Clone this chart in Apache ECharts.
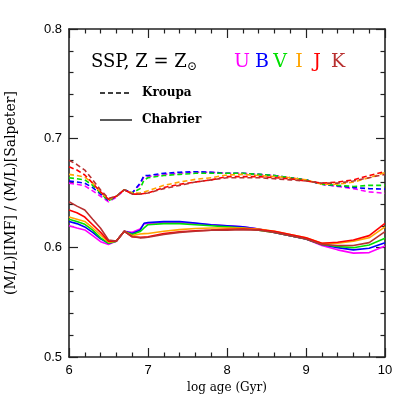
<!DOCTYPE html>
<html>
<head>
<meta charset="utf-8">
<script src="https://cdn.jsdelivr.net/npm/echarts@6/dist/echarts.min.js"></script>
<style>
  html, body { margin: 0; padding: 0; background: #fff; }
  #chart { width: 407px; height: 407px; }
</style>
</head>
<body>
<div id="chart"></div>
<script>
// log age grid (Gyr)
const ages = [6.0, 6.1, 6.2, 6.3, 6.4, 6.5, 6.6, 6.7, 6.8, 6.9, 6.95, 7.0, 7.2, 7.4, 7.6, 7.8,
  8.0, 8.2, 8.4, 8.6, 8.8, 9.0, 9.2, 9.4, 9.6, 9.8, 10.0];

// Kroupa (dashed)
const kroupaU = [0.659, 0.658, 0.6565, 0.652, 0.647, 0.642, 0.646, 0.653, 0.650, 0.658, 0.665, 0.665, 0.667, 0.668, 0.669, 0.669,
  0.668, 0.668, 0.667, 0.666, 0.664, 0.662, 0.658, 0.656, 0.654, 0.651, 0.6497];
const kroupaB = [0.661, 0.660, 0.659, 0.655, 0.649, 0.643, 0.647, 0.653, 0.650, 0.659, 0.666, 0.666, 0.668, 0.669, 0.6695, 0.669,
  0.668, 0.668, 0.667, 0.666, 0.664, 0.662, 0.658, 0.6565, 0.655, 0.654, 0.6535];
const kroupaV = [0.664, 0.663, 0.662, 0.657, 0.650, 0.643, 0.647, 0.653, 0.650, 0.654, 0.662, 0.664, 0.666, 0.667, 0.668, 0.668,
  0.668, 0.668, 0.667, 0.666, 0.664, 0.662, 0.658, 0.657, 0.656, 0.657, 0.657];
const kroupaI = [0.667, 0.666, 0.6645, 0.659, 0.651, 0.644, 0.647, 0.653, 0.650, 0.650, 0.651, 0.652, 0.657, 0.660, 0.6625, 0.664,
  0.6665, 0.667, 0.666, 0.665, 0.664, 0.662, 0.658, 0.658, 0.660, 0.664, 0.6687];
const kroupaJ = [0.674, 0.671, 0.6665, 0.659, 0.651, 0.6443, 0.647, 0.653, 0.649, 0.649, 0.6495, 0.650, 0.655, 0.658, 0.660, 0.662,
  0.665, 0.665, 0.665, 0.664, 0.663, 0.661, 0.659, 0.660, 0.662, 0.666, 0.6696];
const kroupaK = [0.680, 0.676, 0.671, 0.662, 0.6528, 0.645, 0.647, 0.653, 0.649, 0.649, 0.6495, 0.650, 0.654, 0.657, 0.660, 0.662,
  0.664, 0.664, 0.664, 0.663, 0.662, 0.661, 0.659, 0.659, 0.661, 0.664, 0.667];

// Chabrier (solid)
const chabU = [0.620, 0.618, 0.6162, 0.611, 0.6055, 0.603, 0.606, 0.615, 0.614, 0.617, 0.622, 0.622, 0.623, 0.623, 0.622, 0.621,
  0.620, 0.619, 0.617, 0.614, 0.611, 0.608, 0.602, 0.598, 0.595, 0.5955, 0.6015];
const chabB = [0.624, 0.622, 0.619, 0.614, 0.608, 0.604, 0.606, 0.615, 0.613, 0.616, 0.6223, 0.623, 0.6238, 0.624, 0.6225, 0.621,
  0.620, 0.619, 0.617, 0.614, 0.611, 0.608, 0.603, 0.600, 0.598, 0.5994, 0.6046];
const chabV = [0.626, 0.624, 0.6214, 0.616, 0.609, 0.604, 0.606, 0.615, 0.612, 0.6147, 0.618, 0.621, 0.622, 0.622, 0.621, 0.620,
  0.619, 0.618, 0.616, 0.614, 0.611, 0.608, 0.603, 0.601, 0.600, 0.6025, 0.6086];
const chabI = [0.628, 0.626, 0.624, 0.618, 0.6116, 0.605, 0.606, 0.615, 0.611, 0.6125, 0.6128, 0.613, 0.615, 0.6165, 0.6175, 0.618,
  0.618, 0.618, 0.617, 0.615, 0.612, 0.609, 0.604, 0.604, 0.606, 0.609, 0.619];
const chabJ = [0.6345, 0.632, 0.628, 0.621, 0.614, 0.606, 0.606, 0.615, 0.610, 0.6094, 0.6097, 0.610, 0.613, 0.6145, 0.6155, 0.616,
  0.6168, 0.617, 0.6165, 0.615, 0.612, 0.609, 0.604, 0.605, 0.607, 0.611, 0.6223];
const chabK = [0.642, 0.638, 0.6345, 0.626, 0.6177, 0.607, 0.606, 0.615, 0.610, 0.609, 0.6092, 0.6095, 0.612, 0.614, 0.615, 0.616,
  0.616, 0.6165, 0.616, 0.614, 0.611, 0.608, 0.603, 0.602, 0.602, 0.6046, 0.6147];

const bands = ["U", "B", "V", "I", "J", "K"];
const bandColors = ["#ff00ff", "#0000ff", "#00e000", "#ffa500", "#ff0000", "#b83030"];
const kroupaData = [kroupaU, kroupaB, kroupaV, kroupaI, kroupaJ, kroupaK];
const chabData = [chabU, chabB, chabV, chabI, chabJ, chabK];

const frameColor = "#222";
const serif = "'DejaVu Serif', serif";
const sans = "'Liberation Sans', Arial, sans-serif";

function pairs(vals) {
  return ages.map((a, i) => [a, vals[i]]);
}

const series = [];
bands.forEach((b, i) => {
  series.push({
    name: b + " Kroupa",
    type: "line",
    data: pairs(kroupaData[i]),
    showSymbol: false,
    silent: true,
    lineStyle: { color: bandColors[i], width: 1.6, type: [5, 3] },
  });
  series.push({
    name: b + " Chabrier",
    type: "line",
    data: pairs(chabData[i]),
    showSymbol: false,
    silent: true,
    lineStyle: { color: bandColors[i], width: 1.6 },
  });
});

function frameAxis(extra) {
  return Object.assign({
    type: "value",
    axisLine: { show: true, onZero: false, lineStyle: { color: frameColor, width: 1.6 } },
    axisTick: { show: true, inside: true, length: 9, lineStyle: { color: frameColor, width: 1.2 } },
    minorTick: { show: true, splitNumber: 5, length: 4.5, lineStyle: { color: frameColor, width: 1.2 } },
    splitLine: { show: false },
  }, extra);
}

// band letters over the plot
const letterX = [242, 262, 280, 299, 317, 338];
const graphics = bands.map((b, i) => ({
  type: "text",
  x: letterX[i],
  y: 62,
  style: { text: b, fill: bandColors[i], font: "19px " + serif, align: "center", verticalAlign: "middle" },
}));

graphics.push(
  { type: "text", x: 91, y: 62, style: { text: "SSP, Z = Z", fill: "#000", font: "18px " + serif, verticalAlign: "middle" } },
  { type: "text", x: 187, y: 67, style: { text: "⊙", fill: "#000", font: "12px " + serif, verticalAlign: "middle" } },
  { type: "line", shape: { x1: 100, y1: 93, x2: 132, y2: 93 }, style: { stroke: "#000", lineWidth: 1.3, lineDash: [5, 3] } },
  { type: "text", x: 142, y: 93, style: { text: "Kroupa", fill: "#000", font: "bold 12px " + serif, verticalAlign: "middle" } },
  { type: "line", shape: { x1: 100, y1: 120, x2: 132, y2: 120 }, style: { stroke: "#000", lineWidth: 1.3 } },
  { type: "text", x: 142, y: 120, style: { text: "Chabrier", fill: "#000", font: "bold 12px " + serif, verticalAlign: "middle" } }
);

const chart = echarts.init(document.getElementById("chart"), null, { renderer: "canvas" });
chart.setOption({
  animation: false,
  backgroundColor: "#fff",
  grid: { left: 69, right: 22, top: 29, bottom: 50, containLabel: false, outerBoundsMode: "none" },
  xAxis: [
    frameAxis({
      position: "bottom", min: 6, max: 10, interval: 1,
      name: "log age (Gyr)", nameLocation: "middle", nameGap: 25,
      nameTextStyle: { color: "#000", fontFamily: serif, fontSize: 12 },
      axisLabel: { color: "#000", fontFamily: sans, fontSize: 13, margin: 7 },
    }),
    frameAxis({ position: "top", min: 6, max: 10, interval: 1, axisLabel: { show: false } }),
  ],
  yAxis: [
    frameAxis({
      position: "left", min: 0.5, max: 0.8, interval: 0.1,
      name: "(M/L)[IMF] / (M/L)[Salpeter]", nameLocation: "middle", nameGap: 51,
      nameTextStyle: { color: "#000", fontFamily: serif, fontSize: 14 },
      axisLabel: { color: "#000", fontFamily: sans, fontSize: 13, margin: 7,
        formatter: (v) => v.toFixed(1) },
    }),
    frameAxis({ position: "right", min: 0.5, max: 0.8, interval: 0.1, axisLabel: { show: false } }),
  ],
  series: series,
  graphic: graphics,
});
</script>
</body>
</html>
